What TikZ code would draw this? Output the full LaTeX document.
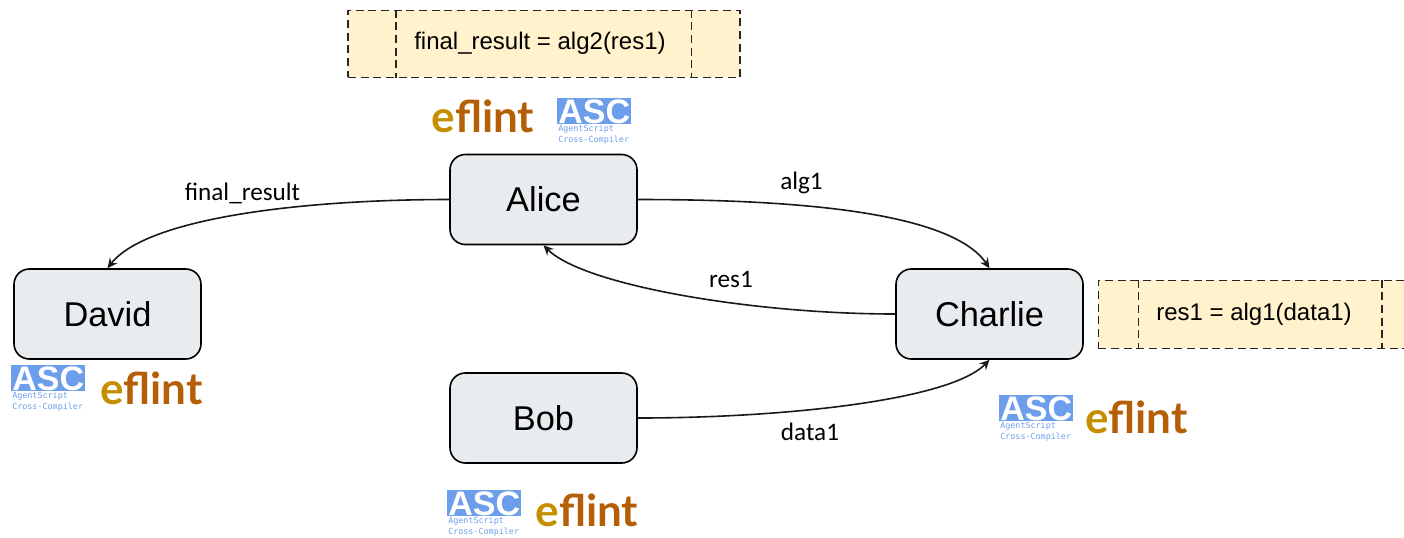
\documentclass[tikz,border=0pt]{standalone}
\usepackage{fontspec}
\setmainfont{Liberation Sans}
\newfontfamily\labelfont{Carlito}
\newfontfamily\logofont{Lato}
\newfontfamily\ascmono{DejaVu Sans Mono}
\usetikzlibrary{arrows.meta,calc}
\definecolor{nodefill}{HTML}{E9ECEE}
\definecolor{procfill}{HTML}{FFF2CC}
\definecolor{ascblue}{HTML}{6D9EEB}
\definecolor{efgold}{HTML}{C49000}
\definecolor{efbrown}{HTML}{B45F06}
\tikzset{
  x=0.75pt,y=-0.75pt,
  actor/.style={draw=black,line width=1.2pt,fill=nodefill,rounded corners=11.5pt,minimum width=140.25pt,minimum height=67.5pt,inner sep=0pt,font=\fontsize{25.8}{28}\selectfont},
  proc/.style={draw=black!85,line width=1.25pt,dash pattern=on 6pt off 3.5pt,fill=procfill,inner sep=0pt},
  procline/.style={draw=black!85,line width=1.25pt,dash pattern=on 6pt off 3.5pt},
  proctext/.style={inner sep=0pt,font=\fontsize{18}{20}\selectfont},
  flow/.style={draw=black!90,line width=1.2pt,-{Stealth[length=7.5pt,width=7pt,inset=2.6pt]}},
  flowlabel/.style={inner sep=0pt,font=\labelfont\fontsize{18.9}{21}\selectfont},
  ascbox/.style={fill=ascblue,minimum width=55.5pt,minimum height=19pt,inner sep=0pt,text=white,font=\bfseries\fontsize{25.5}{26}\selectfont},
  asctext/.style={inner sep=0pt,anchor=west,align=left,text=ascblue,font=\ascmono\fontsize{6.3}{7.9}\selectfont},
  eflintlogo/.style={inner sep=0pt,font=\logofont\bfseries\fontsize{33}{34}\selectfont},
}
\newcommand{\eflintword}{\textcolor{efgold}{e}\textcolor{efbrown}{flint}}
% \asclogo{name}{x of left edge}{y of top edge}
\newcommand{\asclogo}[3]{%
  \node[ascbox,anchor=north west] (#1box) at (#2,#3) {\raisebox{-9.5pt}[0pt][0pt]{ASC}};
  \node[asctext] (#1a) at ($(#2,#3)+(1,36.7)$) {AgentScript\\Cross-Compiler};
}
\begin{document}
\begin{tikzpicture}
\useasboundingbox (0,0) rectangle (1404,537);
% process boxes
\node[proc,minimum width=294.25pt,minimum height=50.25pt,anchor=north west] (topproc) at (347,9.5) {};
\draw[procline] ($(topproc.north west)+(49,0)$) -- ($(topproc.south west)+(49,0)$);
\draw[procline] ($(topproc.north east)+(-49.5,0)$) -- ($(topproc.south east)+(-49.5,0)$);
\node[proctext,anchor=west] (toptext) at (414,43.5) {final\_result = alg2(res1)};
\node[proc,minimum width=231.75pt,minimum height=51pt,anchor=north west] (rightproc) at (1097.5,279.5) {};
\draw[procline] ($(rightproc.north west)+(41,0)$) -- ($(rightproc.south west)+(41,0)$);
\draw[procline] ($(rightproc.north east)+(-26.5,0)$) -- ($(rightproc.south east)+(-26.5,0)$);
\node[proctext,anchor=west] (righttext) at (1156,314.5) {res1 = alg1(data1)};
% actors
\node[actor] (alice) at (543.5,199.5) {Alice};
\node[actor] (david) at (107.5,314) {David};
\node[actor] (charlie) at (989.5,314) {Charlie};
\node[actor] (bob) at (543.5,418) {Bob};
% connectors
\draw[flow] (alice.west) .. controls +(-143,0) and +(40,-51) .. (david.north);
\draw[flow] (alice.east) .. controls +(143,0) and +(-40,-59) .. (charlie.north);
\draw[flow] (charlie.west) .. controls +(-143,0) and +(40,40) .. (alice.south);
\draw[flow] (bob.east) .. controls +(143,0) and +(-40,41) .. (charlie.south);
\node[flowlabel] (l1) at (242.5,193) {final\_result};
\node[flowlabel] (l2) at (801.5,183) {alg1};
\node[flowlabel] (l3) at (731,279) {res1};
\node[flowlabel] (l4) at (810,432) {data1};
% logos
\node[eflintlogo] (ef1) at (483,116) {\eflintword};
\asclogo{a1}{557}{98}
\node[eflintlogo] (ef2) at (151.5,388) {\eflintword};
\asclogo{a2}{11}{365}
\node[eflintlogo] (ef3) at (1136.5,417) {\eflintword};
\asclogo{a3}{999}{395}
\node[eflintlogo] (ef4) at (587,510) {\eflintword};
\asclogo{a4}{447}{490}
\end{tikzpicture}
\end{document}
